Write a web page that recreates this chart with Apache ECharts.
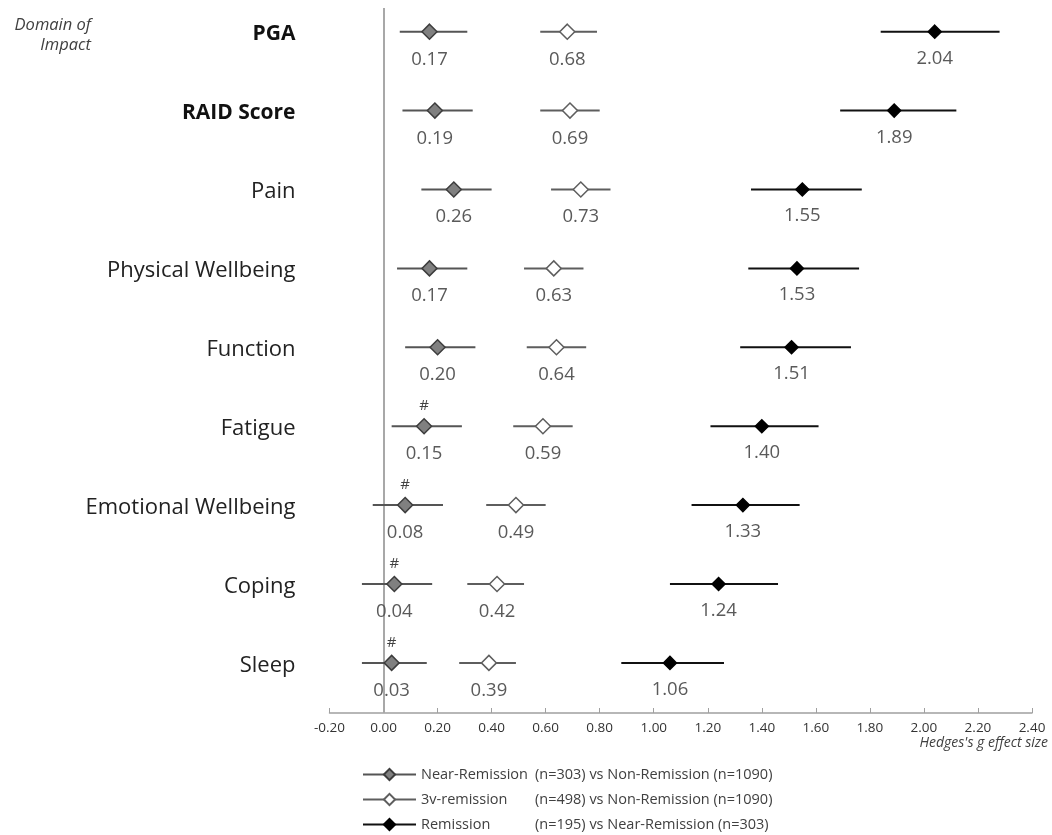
<!DOCTYPE html>
<html>
<head>
<meta charset="utf-8">
<script src="https://cdn.jsdelivr.net/npm/echarts@6/dist/echarts.min.js"></script>
<style>
  html, body { margin: 0; padding: 0; background: #fff; }
  #chart { width: 1052px; height: 835px; }
</style>
</head>
<body>
<div id="chart"></div>
<script>
// Domains of impact, top to bottom
const categories = ['PGA', 'RAID Score', 'Pain', 'Physical Wellbeing', 'Function',
  'Fatigue', 'Emotional Wellbeing', 'Coping', 'Sleep'];
const boldCategories = ['PGA', 'RAID Score'];

// Hedges's g with 95% CI: Near-Remission vs Non-Remission
const nearEst = [0.17, 0.19, 0.26, 0.17, 0.20, 0.15, 0.08, 0.04, 0.03];
const nearLo  = [0.06, 0.07, 0.14, 0.05, 0.08, 0.03, -0.04, -0.08, -0.08];
const nearHi  = [0.31, 0.33, 0.40, 0.31, 0.34, 0.29, 0.22, 0.18, 0.16];

// 3v-remission vs Non-Remission
const v3Est = [0.68, 0.69, 0.73, 0.63, 0.64, 0.59, 0.49, 0.42, 0.39];
const v3Lo  = [0.58, 0.58, 0.62, 0.52, 0.53, 0.48, 0.38, 0.31, 0.28];
const v3Hi  = [0.79, 0.80, 0.84, 0.74, 0.75, 0.70, 0.60, 0.52, 0.49];

// Remission vs Near-Remission
const remEst = [2.04, 1.89, 1.55, 1.53, 1.51, 1.40, 1.33, 1.24, 1.06];
const remLo  = [1.84, 1.69, 1.36, 1.35, 1.32, 1.21, 1.14, 1.06, 0.88];
const remHi  = [2.28, 2.12, 1.77, 1.76, 1.73, 1.61, 1.54, 1.46, 1.26];

// Domains where the Near-Remission effect is flagged with '#'
const flaggedDomains = ['Fatigue', 'Emotional Wellbeing', 'Coping', 'Sleep'];

// Legend wording
const legendNames = ['Near-Remission', '3v-remission', 'Remission'];
const legendDetails = ['(n=303) vs Non-Remission (n=1090)',
  '(n=498) vs Non-Remission (n=1090)',
  '(n=195) vs Near-Remission (n=303)'];

// x-axis ticks
const xMin = -0.2, xMax = 2.4, xStep = 0.2;

const FONT = 'Open Sans';

// One line series per comparison: CI segment (lo -> est -> hi) per row, broken between rows
function forestData(est, lo, hi) {
  const out = [];
  est.forEach((e, i) => {
    out.push({ value: [lo[i], i], symbol: 'none', label: { show: false } });
    out.push({ value: [e, i] });
    out.push({ value: [hi[i], i], symbol: 'none', label: { show: false } });
    out.push({ value: ['-', '-'] });
  });
  return out;
}

function forestSeries(name, est, lo, hi, lineColor, fill, border, size, extra) {
  return Object.assign({
    name: name,
    type: 'line',
    data: forestData(est, lo, hi),
    connectNulls: false,
    symbol: 'diamond',
    symbolSize: size,
    showSymbol: true,
    lineStyle: { color: lineColor, width: 2 },
    itemStyle: { color: fill, borderColor: border, borderWidth: 1.5 },
    label: {
      show: true,
      position: 'bottom',
      distance: 10,
      fontFamily: FONT,
      fontSize: 18.5,
      color: '#5a5a5a',
      formatter: p => Number(p.value[0]).toFixed(2)
    },
    emphasis: { disabled: true },
    z: 3
  }, extra || {});
}

const chart = echarts.init(document.getElementById('chart'), null, { renderer: 'canvas' });

const option = {
  animation: false,
  backgroundColor: '#ffffff',
  grid: { left: 329.5, right: 20, top: 8, bottom: 122, containLabel: false },
  xAxis: {
    type: 'value',
    min: xMin,
    max: xMax,
    interval: xStep,
    axisLine: { show: true, onZero: false, lineStyle: { color: '#a0a0a0', width: 1.5 } },
    axisTick: { show: true, inside: true, length: 5, lineStyle: { color: '#a0a0a0', width: 1 } },
    splitLine: { show: false },
    axisLabel: {
      fontFamily: FONT,
      fontSize: 13.5,
      color: '#333',
      margin: 8,
      formatter: v => v.toFixed(2)
    }
  },
  yAxis: {
    type: 'value',
    inverse: true,
    min: -0.3,
    max: 8.635,
    axisLine: { show: false, onZero: false },
    axisTick: { show: false },
    splitLine: { show: false },
    axisLabel: {
      show: true,
      customValues: categories.map((c, i) => i),
      margin: 34,
      fontFamily: FONT,
      fontSize: 22,
      color: '#222',
      padding: [5, 0, 0, 0],
      formatter: v => {
        const c = categories[v];
        if (c === undefined) return '';
        return boldCategories.includes(c) ? '{b|' + c + '}' : c;
      },
      rich: {
        b: { fontFamily: FONT, fontSize: 21, fontWeight: 'bold', color: '#111' }
      }
    }
  },
  legend: {
    orient: 'vertical',
    left: 357,
    top: 762,
    height: 100,
    itemWidth: 53,
    itemHeight: 14,
    itemGap: 10,
    selectedMode: false,
    data: legendNames,
    textStyle: {
      fontFamily: FONT,
      fontSize: 14.5,
      color: '#404040',
      rich: {
        a: { fontFamily: FONT, fontSize: 14.5, color: '#404040', width: 114 },
        d: { fontFamily: FONT, fontSize: 14.5, color: '#404040' }
      }
    },
    formatter: name => {
      const i = legendNames.indexOf(name);
      return '{a|' + name + '}{d|' + legendDetails[i] + '}';
    }
  },
  graphic: [
    {
      type: 'text',
      right: 1052 - 91,
      top: 15,
      style: {
        text: 'Domain of\nImpact',
        font: 'italic 16.5px "Open Sans"',
        fill: '#404040',
        textAlign: 'right',
        lineHeight: 20
      }
    },
    {
      type: 'text',
      right: 4,
      top: 736,
      style: {
        text: "Hedges's g effect size",
        font: 'italic 14px "Open Sans"',
        fill: '#404040',
        textAlign: 'right'
      }
    }
  ],
  series: [
    forestSeries('Near-Remission', nearEst, nearLo, nearHi, '#555555', '#808080', '#3d3d3d', 15, {
      markLine: {
        silent: true,
        symbol: 'none',
        label: { show: false },
        lineStyle: { color: '#a8a8a8', width: 2, type: 'solid' },
        data: [{ xAxis: 0 }],
        z: 1
      }
    }),
    forestSeries('3v-remission', v3Est, v3Lo, v3Hi, '#5e5e5e', '#ffffff', '#5e5e5e', 15),
    forestSeries('Remission', remEst, remLo, remHi, '#111111', '#000000', '#000000', 13),
    {
      name: 'flag',
      type: 'scatter',
      data: categories
        .map((c, i) => flaggedDomains.includes(c) ? [nearEst[i], i] : null)
        .filter(d => d !== null),
      symbol: 'circle',
      symbolSize: 2,
      itemStyle: { color: 'rgba(0,0,0,0)' },
      label: {
        show: true,
        position: 'top',
        distance: 12,
        formatter: '#',
        fontFamily: FONT,
        fontSize: 15,
        color: '#111'
      },
      emphasis: { disabled: true },
      z: 4
    }
  ]
};

chart.setOption(option);
</script>
</body>
</html>
